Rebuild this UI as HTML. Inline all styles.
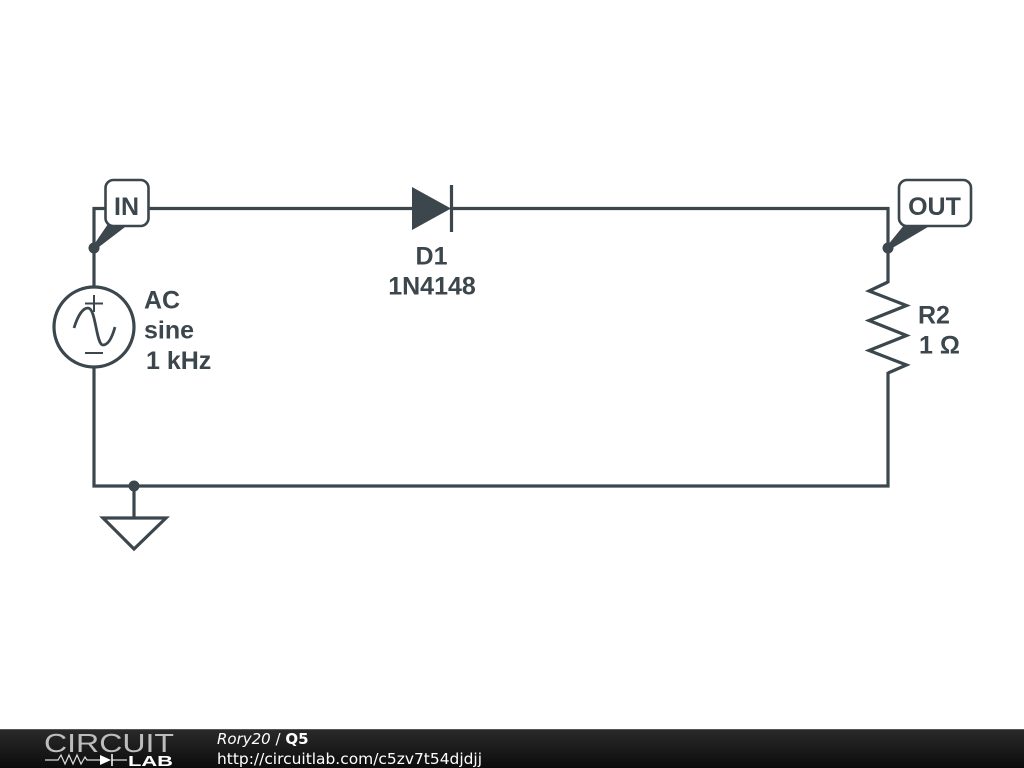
<!DOCTYPE html>
<html>
<head>
<meta charset="utf-8">
<style>
html,body{margin:0;padding:0;background:#fff;width:1024px;height:768px;overflow:hidden}
svg{display:block;position:absolute;left:0;top:0;filter:blur(0.35px)}
</style>
</head>
<body>
<svg width="1024" height="768" viewBox="0 0 1024 768" xmlns="http://www.w3.org/2000/svg">
<defs>
<linearGradient id="bar" x1="0" y1="0" x2="0" y2="1">
<stop offset="0" stop-color="#2a2a2a"/><stop offset="1" stop-color="#0c0c0c"/>
</linearGradient>
</defs>
<rect width="1024" height="768" fill="#fff"/>
<g fill="none" stroke="#3c464d" stroke-width="3.2" stroke-linejoin="miter">
<path d="M94 287V208.500H106"/>
<path d="M149 208.500H413"/>
<path d="M451 208.500H888V283"/>
<path d="M94 368V486H888V372"/>
<path d="M888 282L869 291L906.500 305.500L869 320.500L906.500 335.500L869 350.500L906.500 365L888 373"/>
<path d="M134 486V517"/>
<path d="M103 518H166L134 549Z"/>
<circle cx="94" cy="327" r="40"/>
<path d="M74 328C78 315 83 308 88 308C96 308 96 345 103 345C108 345 112 338 115 327" stroke-width="2.800"/>
<path d="M94 295V312M85 303.500H103M85 353H103" stroke-width="2"/>
<path d="M451.500 185V232"/>
</g>
<path d="M412 187L451 208.500L412 230Z" fill="#3c464d"/>
<circle cx="94" cy="248" r="5.500" fill="#3c464d"/>
<circle cx="888" cy="248" r="5.500" fill="#3c464d"/>
<circle cx="134" cy="486" r="5.500" fill="#3c464d"/>
<path d="M93 246L108 224H129L95 250Z" fill="#3c464d"/>
<path d="M887 246L905 224H933L889 250Z" fill="#3c464d"/>
<rect x="105.500" y="180" width="43" height="46" rx="8" fill="#fff" stroke="#3c464d" stroke-width="2.600"/>
<rect x="899" y="180" width="72" height="46" rx="8" fill="#fff" stroke="#3c464d" stroke-width="2.600"/>
<g font-family="'Liberation Sans',sans-serif" font-weight="700" font-size="25" fill="#3c464d">
<text x="126.500" y="215" text-anchor="middle">IN</text>
<text x="934.500" y="215" text-anchor="middle">OUT</text>
<text x="431.500" y="264.500" text-anchor="middle">D1</text>
<text x="432" y="294.500" text-anchor="middle">1N4148</text>
<text x="144" y="308.500">AC</text>
<text x="144" y="338.500">sine</text>
<text x="146" y="369">1 kHz</text>
<text x="918" y="323.500">R2</text>
<text x="919" y="353.500">1 Ω</text>
</g>
<rect x="0" y="729" width="1024" height="39" fill="url(#bar)"/>
<rect x="0" y="729" width="1024" height="1" fill="#555"/>
<text x="44" y="752" font-family="'Liberation Sans',sans-serif" font-size="26" fill="#bdbdbd" font-weight="400" textLength="130" lengthAdjust="spacingAndGlyphs">CIRCUIT</text>
<path d="M45 760H58L61 755L65 764L69 755L73 764L77 755L81 764L85 757L87 760H100M112 760H127" fill="none" stroke="#ddd" stroke-width="1.200"/>
<path d="M100 755V765L111 760Z" fill="#fff"/>
<path d="M112 754V766" stroke="#fff" stroke-width="1.500"/>
<text x="128" y="766" font-family="'Liberation Sans',sans-serif" font-size="15" font-weight="700" fill="#fff" textLength="45" lengthAdjust="spacingAndGlyphs">LAB</text>
<g font-family="'DejaVu Sans',sans-serif" font-size="15" fill="#fff">
<text x="217" y="744"><tspan font-style="italic">Rory20</tspan> / <tspan font-weight="700">Q5</tspan></text>
<text x="217" y="764" textLength="265" lengthAdjust="spacingAndGlyphs">http://circuitlab.com/c5zv7t54djdjj</text>
</g>
</svg>
</body>
</html>
